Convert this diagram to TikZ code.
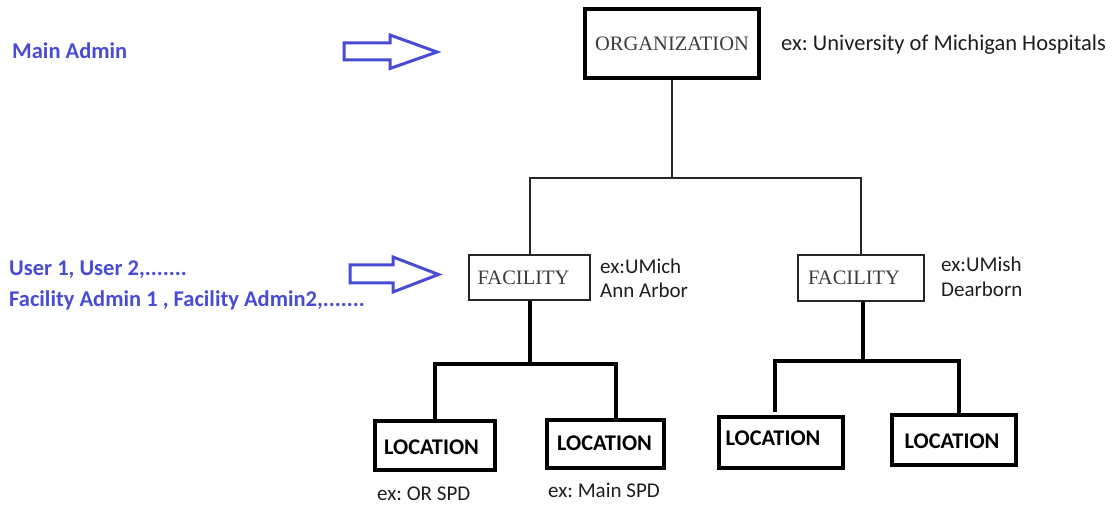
\documentclass[tikz,border=0pt]{standalone}
\usepackage{fontspec}
\setmainfont{Carlito}
\newfontfamily\serifx{Liberation Serif}
\usetikzlibrary{calc}
\definecolor{adminblue}{RGB}{72,76,212}
\definecolor{boxgray}{RGB}{60,60,60}
\definecolor{txt}{RGB}{30,30,30}
\frenchspacing
\begin{document}
\begin{tikzpicture}[x=1pt,y=-1pt,
 orgbox/.style={draw=black, line width=4pt, inner sep=0pt, fill=white},
 facbox/.style={draw=black!85, line width=2pt, inner sep=0pt, fill=white},
 locbox/.style={draw=black, line width=4pt, inner sep=0pt, fill=white},
 serifcap/.style={font=\serifx\fontsize{20.5pt}{21pt}\selectfont, text=boxgray, inner sep=0pt},
 loctext/.style={font=\bfseries\fontsize{22.4pt}{22pt}\selectfont, text=black, inner sep=0pt},
 exlabel/.style={font=\fontsize{21pt}{25pt}\selectfont, text=txt, anchor=base west, inner sep=0pt},
 bluetext/.style={font=\bfseries\fontsize{22.5pt}{30pt}\selectfont, text=adminblue, anchor=base west, inner sep=0pt},
 thinconn/.style={draw=black!85, line width=2pt},
 thickconn/.style={draw=black, line width=4pt},
 blockarrow/.style={draw=adminblue, line width=3pt, fill=white, line join=miter},
]
\useasboundingbox (0,0) rectangle (1117,505);

% left-hand role labels
\node[bluetext] (mainadmin) at (12,59) {Main Admin};
\node[bluetext] (users) at (9,276) {User 1, User 2,.......};
\node[bluetext] (facadmins) at (9,306) {Facility Admin 1 , Facility Admin2,.......};

% block arrows
\draw[blockarrow] (344,43) -- (390,43) -- (390,35) -- (437,52) -- (390,68.5) -- (390,60) -- (344,60) -- cycle;
\draw[blockarrow] (350,265) -- (393,265) -- (393,257) -- (438.5,274.5) -- (393,292) -- (393,283) -- (350,283) -- cycle;

% organization
\node[orgbox, minimum width=174pt, minimum height=69pt,
  label={[serifcap]center:ORGANIZATION}] (org) at (672,43.5) {};
\node[exlabel, font=\fontsize{22.5pt}{25pt}\selectfont] (orgex) at (781,51) {ex: University of Michigan Hospitals};

% facilities
\node[facbox, minimum width=121pt, minimum height=45pt,
  label={[serifcap, xshift=-6pt]center:FACILITY}] (f1) at (529.5,277.5) {};
\node[facbox, minimum width=126pt, minimum height=46pt,
  label={[serifcap, xshift=-7pt]center:FACILITY}] (f2) at (861,278) {};
\node[exlabel] (f1ex) at (600,273) {ex:UMich};
\node[exlabel] (f1ex2) at (600,298) {Ann Arbor};
\node[exlabel] (f2ex) at (941,271.5) {ex:UMish};
\node[exlabel] (f2ex2) at (941,296.5) {Dearborn};

% locations
\node[locbox, minimum width=120pt, minimum height=49pt,
  label={[loctext, xshift=-3.5pt, yshift=-1.5pt]center:LOCATION}] (l1) at (435,445.5) {};
\node[locbox, minimum width=117pt, minimum height=48pt,
  label={[loctext, xshift=-1pt, yshift=1pt]center:LOCATION}] (l2) at (605.5,444) {};
\node[locbox, minimum width=124pt, minimum height=51pt,
  label={[loctext, xshift=-8pt, yshift=4.5pt]center:LOCATION}] (l3) at (781,442.5) {};
\node[locbox, minimum width=124pt, minimum height=50pt,
  label={[loctext, xshift=-2pt, yshift=-1pt]center:LOCATION}] (l4) at (954,440) {};
\node[exlabel] (l1ex) at (377,500) {ex: OR SPD};
\node[exlabel] (l2ex) at (548,497) {ex: Main SPD};

% connectors: organization to facilities
\coordinate (jo) at (672,178);
\draw[thinconn] (org.south) -- (jo);
\draw[thinconn] (f1.north) |- (jo) -| (f2.north);

% connectors: facility 1 to its locations
\coordinate (j1) at (529.5,364);
\draw[thickconn] (f1.south) -- (j1);
\draw[thickconn] (l1.north) |- (j1) -| ($(l2.north)+(10.5,0)$);

% connectors: facility 2 to its locations
\coordinate (j2) at (863,361);
\draw[thickconn] (f2.south -| j2) -- (j2);
\draw[thickconn] ($(l3.north)+(-6,-3)$) |- (j2) -| ($(l4.north)+(5,0)$);
\end{tikzpicture}
\end{document}
